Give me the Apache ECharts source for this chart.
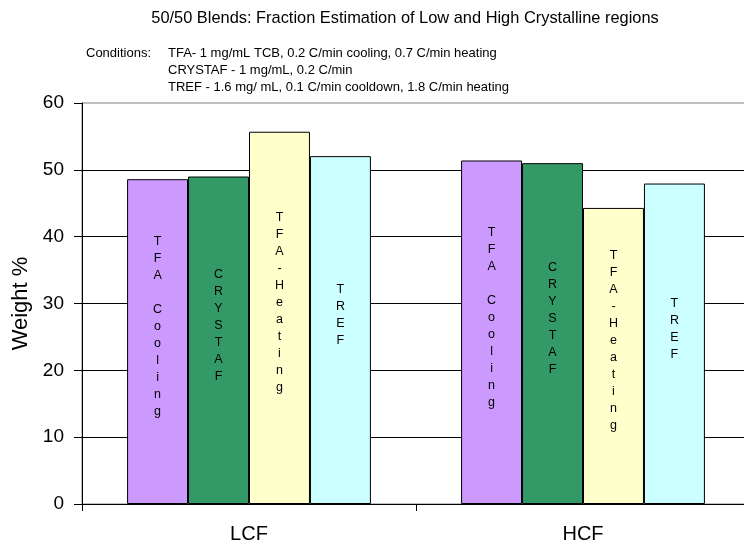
<!DOCTYPE html>
<html>
<head>
<meta charset="utf-8">
<script src="https://cdn.jsdelivr.net/npm/echarts@6/dist/echarts.min.js"></script>
<style>
  html, body { margin: 0; padding: 0; background: #fff; overflow: hidden; }
  #chart { width: 750px; height: 545px; }
</style>
</head>
<body>
<div id="chart"></div>
<script>
// Fractions (weight %) of low- and high-crystalline regions in 50/50 blends
const categories = ['LCF', 'HCF'];
const methods = ['TFA Cooling', 'CRYSTAF', 'TFA-Heating', 'TREF'];
const tfaCooling = [48.6, 51.4];
const crystaf = [49.0, 51.0];
const tfaHeating = [55.7, 44.3];
const tref = [52.05, 47.95];
const yTicks = [0, 10, 20, 30, 40, 50, 60];

const seriesValues = [tfaCooling, crystaf, tfaHeating, tref];
const barColors = ['#CC99FF', '#339966', '#FFFFCC', '#CCFFFF'];

const FONT = '"Liberation Sans", Arial, sans-serif';

// Vertical, letter-by-letter label inside each bar
function stacked(name) {
  return name.split('').join('\n');
}

const chart = echarts.init(document.getElementById('chart'), null, { renderer: 'canvas' });

chart.setOption({
  animation: false,
  backgroundColor: '#ffffff',
  textStyle: { fontFamily: FONT },
  title: [
    {
      text: '50/50 Blends: Fraction Estimation of Low and High Crystalline regions',
      left: 405, top: 10, textAlign: 'center', padding: 0,
      textStyle: { fontSize: 16.4, fontWeight: 'normal', color: '#000', fontFamily: FONT }
    },
    {
      text: 'Conditions:',
      left: 86, top: 45, padding: 0,
      textStyle: { fontSize: 13, fontWeight: 'normal', color: '#000', fontFamily: FONT, lineHeight: 17 }
    },
    {
      text: 'TFA- 1 mg/mL TCB, 0.2 C/min cooling, 0.7 C/min heating\n' +
            'CRYSTAF - 1 mg/mL, 0.2 C/min\n' +
            'TREF - 1.6 mg/ mL, 0.1 C/min cooldown, 1.8 C/min heating',
      left: 168, top: 45, padding: 0,
      textStyle: { fontSize: 13, fontWeight: 'normal', color: '#000', fontFamily: FONT, lineHeight: 17 }
    }
  ],
  grid: {
    left: 82, right: 0, top: 103, bottom: 41,
    outerBoundsMode: 'none',
    containLabel: false,
    show: true, borderColor: '#808080', borderWidth: 1, backgroundColor: 'transparent'
  },
  xAxis: {
    type: 'category',
    data: categories,
    axisLine: { lineStyle: { color: '#000', width: 1 } },
    axisTick: { show: true, length: 7, lineStyle: { color: '#000' } },
    axisLabel: { fontSize: 20, color: '#000', margin: 20, fontFamily: FONT },
    splitLine: { show: false }
  },
  yAxis: {
    type: 'value',
    min: yTicks[0],
    max: yTicks[yTicks.length - 1],
    interval: yTicks[1] - yTicks[0],
    name: 'Weight %',
    nameLocation: 'middle',
    nameRotate: 90,
    nameGap: 49,
    nameTextStyle: { fontSize: 22, color: '#000', fontFamily: FONT },
    axisLine: { show: true, lineStyle: { color: '#000', width: 1 } },
    axisTick: { show: true, length: 8, lineStyle: { color: '#000' } },
    axisLabel: { fontSize: 19, color: '#000', margin: 18, fontFamily: FONT },
    splitLine: { show: true, showMaxLine: false, lineStyle: { color: '#000', width: 1 } }
  },
  series: methods.map((name, i) => ({
    name: name,
    type: 'bar',
    data: seriesValues[i],
    barGap: '0%',
    barCategoryGap: '27%',
    itemStyle: { color: barColors[i], borderColor: '#000', borderWidth: 1 },
    label: {
      show: true,
      position: 'inside',
      offset: [0, -15],
      formatter: () => stacked(name),
      fontSize: 12.5,
      lineHeight: 17,
      color: '#000',
      fontFamily: FONT
    }
  }))
});
</script>
</body>
</html>
